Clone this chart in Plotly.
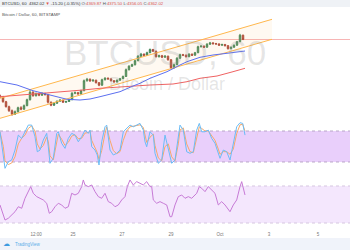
import plotly.graph_objects as go

# ---------------- data ----------------
CANDLE_HOURS = list(range(0, 246, 3))
OPEN = [3800, 3790, 3740, 3690, 3650, 3615, 3640, 3680, 3665, 3700, 3760, 3835, 3800, 3820, 3805, 3822, 3812, 3735, 3705, 3725,
        3745, 3755, 3735, 3742, 3760, 3825, 3830, 3818, 3850, 3950, 3965, 3948, 3955, 3930, 3905, 3960, 3975, 3968, 3950, 3938,
        3955, 3970, 3992, 4060, 4095, 4110, 4150, 4195, 4215, 4205, 4230, 4262, 4245, 4190, 4200, 4185, 4195, 4160, 4080, 4110,
        4175, 4210, 4205, 4190, 4215, 4205, 4230, 4290, 4295, 4285, 4315, 4328, 4320, 4318, 4305, 4312, 4300, 4270, 4285, 4305,
        4340, 4405]
CLOSE = [3790, 3740, 3690, 3650, 3615, 3640, 3680, 3665, 3700, 3760, 3835, 3800, 3820, 3805, 3822, 3812, 3735, 3705, 3725, 3745,
         3755, 3735, 3742, 3760, 3825, 3830, 3818, 3850, 3950, 3965, 3948, 3955, 3930, 3905, 3960, 3975, 3968, 3950, 3938, 3955,
         3970, 3992, 4060, 4095, 4110, 4150, 4195, 4215, 4205, 4230, 4262, 4245, 4190, 4200, 4185, 4195, 4160, 4080, 4110, 4175,
         4210, 4205, 4190, 4215, 4205, 4230, 4290, 4295, 4285, 4315, 4328, 4320, 4318, 4305, 4312, 4300, 4270, 4285, 4305, 4340,
         4405, 4362]
HIGH = [3812, 3798, 3748, 3700, 3662, 3652, 3690, 3695, 3712, 3770, 3858, 3845, 3832, 3830, 3835, 3830, 3818, 3742, 3735, 3752,
        3765, 3760, 3750, 3770, 3835, 3842, 3838, 3860, 3962, 3978, 3972, 3965, 3960, 3936, 3970, 3985, 3982, 3975, 3956, 3962,
        3978, 4002, 4072, 4105, 4120, 4160, 4205, 4228, 4222, 4240, 4272, 4268, 4250, 4210, 4208, 4205, 4200, 4165, 4120, 4185,
        4220, 4218, 4212, 4225, 4222, 4238, 4300, 4306, 4302, 4325, 4338, 4335, 4328, 4322, 4320, 4318, 4305, 4292, 4312, 4348,
        4418, 4410]
LOW = [3778, 3730, 3682, 3638, 3600, 3608, 3632, 3655, 3660, 3695, 3752, 3790, 3792, 3795, 3798, 3800, 3722, 3695, 3698, 3718,
       3738, 3728, 3730, 3738, 3755, 3815, 3810, 3812, 3845, 3940, 3938, 3940, 3922, 3895, 3900, 3952, 3960, 3942, 3930, 3932,
       3948, 3965, 3988, 4052, 4088, 4102, 4145, 4188, 4196, 4198, 4225, 4238, 4182, 4182, 4176, 4178, 4150, 4068, 4072, 4105,
       4168, 4196, 4182, 4185, 4198, 4200, 4225, 4282, 4278, 4280, 4308, 4312, 4310, 4298, 4298, 4292, 4262, 4265, 4280, 4300,
       4335, 4356]
LAST_PRICE = 4362.02

MA_BLUE_X = [0, 17, 33, 50, 67, 80, 90, 100, 110, 120, 133, 140, 150, 167, 180, 187, 200, 213, 227, 245]
MA_BLUE = [3940, 3907, 3850, 3807, 3764, 3757, 3767, 3790, 3817, 3840, 3897, 3924, 3974, 4040, 4107, 4140, 4184, 4207, 4224, 4247]
MA_RED_X = [0, 33, 67, 83, 100, 133, 150, 173, 187, 200, 217, 233, 245]
MA_RED = [3790, 3814, 3840, 3857, 3874, 3897, 3907, 3917, 3940, 3974, 3997, 4040, 4074]

CHANNEL_X = [0, 272]
CHANNEL_UPPER = [3774, 4564]
CHANNEL_LOWER = [3574, 4364]

STOCH_X = [0, 3.3, 5, 8.3, 11.7, 15, 18.3, 21.7, 25, 28.3, 31.7, 35, 37.3, 40, 43.3, 46.7, 48.3, 50, 53.3, 56.7,
           58.3, 61.7, 65, 68.3, 71.7, 75, 78.3, 81.7, 85, 88.3, 90, 91.7, 95, 97.3, 99, 101.7, 105, 106.7, 110, 113.3,
           116.7, 120, 123.3, 126.7, 130, 133.3, 136.7, 140, 143.3, 145, 146.7, 150, 153.3, 155, 158.3, 161.7, 165, 168.3,
           171.7, 175, 178.3, 180, 183.3, 186.7, 190, 193.3, 196.7, 199.3, 201.7, 205, 208.3, 211.7, 215, 218.3, 220,
           223.3, 226.7, 230, 233.3, 236.7, 240, 242.7, 245]
STOCH_K = [78.5, 23.8, 7.7, 20.5, 23.8, 43.1, 72.1, 65.6, 78.5, 91.5, 91.5, 68.9, 39.8, 43.1, 62.5, 75.4, 49.5, 17.4, 27.1, 75.4,
           78.5, 56.1, 46.4, 65.6, 75.4, 72.1, 59.2, 68.9, 81.8, 75.4, 81.8, 49.5, 43.1, 33.5, 14.1, 59.2, 88.2, 91.5, 43.1, 33.5,
           36.8, 43.1, 78.5, 85.1, 91.5, 88.2, 91.5, 94.8, 81.8, 59.2, 49.5, 78.5, 72.1, 36.8, 17.4, 23.8, 72.1, 43.1,
           17.4, 23.8, 75.4, 91.5, 81.8, 39.8, 36.8, 39.8, 81.8, 94.8, 78.5, 78.5, 81.8, 65.6, 56.1, 36.8, 27.1,
           43.1, 39.8, 23.8, 56.1, 88.2, 96.0, 94.8, 72.1]
STOCH_D = [78, 50, 22, 15, 18, 30, 55, 66, 72, 85, 90, 80, 55, 45, 52, 68, 60, 32, 24, 60,
           74, 64, 52, 58, 70, 73, 65, 66, 76, 77, 80, 62, 47, 38, 25, 42, 75, 88, 62, 42,
           36, 40, 62, 80, 88, 89, 90, 92, 87, 70, 58, 68, 74, 52, 28, 22, 50, 55,
           30, 22, 55, 82, 86, 55, 40, 38, 65, 88, 85, 80, 80, 72, 62, 45, 35,
           40, 40, 35, 45, 75, 92, 93, 80]

RSI_X = [0, 2.7, 5, 8.3, 11.7, 15, 18.3, 21.7, 25, 28.3, 30.7, 33.3, 36.7, 40, 43.3, 46.7, 49.3, 51.7, 55, 58.3,
         61.7, 65, 68.3, 71.7, 75, 78.3, 81.7, 83.3, 85, 88.3, 91.7, 95, 98.3, 101.7, 105, 108.3, 111.7, 115, 118.3,
         121.7, 125, 127.3, 130, 133.3, 136.7, 140, 143.3, 146.7, 150, 151.7, 153.3, 156.7, 160, 163.3, 166.7, 170,
         171.7, 175, 178.3, 181.7, 185, 188.3, 191.7, 196.7, 199.3, 201.7, 205, 208.3, 211.7, 215, 218.3, 221.7,
         225, 228.3, 230, 233.3, 236.7, 240, 241.7, 245]
RSI = [49.5, 40.5, 33.2, 35.1, 38.6, 42.2, 47.6, 45.9, 56.7, 63.9, 69.3, 62.1, 58.5, 56.7, 54.9, 51.3, 40.5, 42.2, 47.6, 51.3,
       49.5, 45.9, 47.6, 62.1, 60.3, 62.1, 69.3, 76.5, 71.1, 69.3, 71.1, 63.9, 58.5, 56.7, 62.1, 53.1, 51.3, 47.6, 49.5,
       54.9, 58.5, 69.3, 76.5, 71.1, 74.7, 72.9, 71.1, 74.7, 69.3, 69.3, 54.9, 51.3, 53.1, 51.3, 49.5, 36.8,
       36.8, 49.5, 58.5, 60.3, 56.7, 58.5, 56.7, 62.1, 69.3, 67.5, 63.9, 69.3, 65.7, 62.1, 49.5, 53.1,
       49.5, 44.1, 42.2, 49.5, 54.9, 69.3, 74.7, 60.3]

TICK_POS = [1, 36, 73, 122, 171, 220, 269, 318, 348]
TICK_TEXT = ["1", "12:00", "25", "27", "29", "Oct", "3", "5", "08"]

W, H = 350, 250


def py(pix):
    return 1 - pix / H


fig = go.Figure()

# channel
fig.add_trace(go.Scatter(x=CHANNEL_X, y=CHANNEL_LOWER, mode="lines",
                         line=dict(color="#ffb74d", width=1), hoverinfo="skip"))
fig.add_trace(go.Scatter(x=CHANNEL_X, y=CHANNEL_UPPER, mode="lines", fill="tonexty",
                         fillcolor="rgba(255,183,77,0.08)",
                         line=dict(color="#ffb74d", width=1), hoverinfo="skip"))

# moving averages
fig.add_trace(go.Scatter(x=MA_RED_X, y=MA_RED, mode="lines", line=dict(color="#f06262", width=1)))
fig.add_trace(go.Scatter(x=MA_BLUE_X, y=MA_BLUE, mode="lines", line=dict(color="#5c6ff0", width=1)))

# candles
fig.add_trace(go.Candlestick(x=CANDLE_HOURS, open=OPEN, high=HIGH, low=LOW, close=CLOSE,
                             increasing=dict(line=dict(color="#45875a", width=1), fillcolor="#52a06a"),
                             decreasing=dict(line=dict(color="#a8473a", width=1), fillcolor="#c45a46"),
                             whiskerwidth=0))

# stochastic
fig.add_trace(go.Scatter(x=STOCH_X, y=STOCH_D, mode="lines", yaxis="y2",
                         line=dict(color="#f7a86a", width=1)))
fig.add_trace(go.Scatter(x=STOCH_X, y=STOCH_K, mode="lines", yaxis="y2",
                         line=dict(color="#6bbcf5", width=1)))

# RSI
fig.add_trace(go.Scatter(x=RSI_X, y=RSI, mode="lines", yaxis="y3",
                         line=dict(color="#c77ad6", width=1)))

shapes = [
    dict(type="rect", xref="paper", yref="paper", x0=0, x1=1, y0=py(7), y1=1,
         fillcolor="#eff2f6", line=dict(width=0), layer="below"),
    dict(type="rect", xref="paper", yref="paper", x0=0, x1=1, y0=0, y1=py(238),
         fillcolor="#f0f3fa", line=dict(width=0), layer="below"),
    dict(type="line", xref="paper", yref="y", x0=0, x1=1, y0=LAST_PRICE, y1=LAST_PRICE,
         line=dict(color="rgba(240,120,120,0.55)", width=1), layer="below"),
    dict(type="rect", xref="paper", yref="y2", x0=0, x1=1, y0=20, y1=80,
         fillcolor="#e9cffb", line=dict(width=0), layer="below"),
    dict(type="line", xref="paper", yref="y2", x0=0, x1=1, y0=80, y1=80,
         line=dict(color="#b9a6c8", width=1, dash="dot"), layer="below"),
    dict(type="line", xref="paper", yref="y2", x0=0, x1=1, y0=20, y1=20,
         line=dict(color="#b9a6c8", width=1, dash="dot"), layer="below"),
    dict(type="rect", xref="paper", yref="y3", x0=0, x1=1, y0=30, y1=70,
         fillcolor="#f4e7fd", line=dict(width=0), layer="below"),
    dict(type="line", xref="paper", yref="y3", x0=0, x1=1, y0=70, y1=70,
         line=dict(color="#d6c6e0", width=1, dash="dot"), layer="below"),
    dict(type="line", xref="paper", yref="y3", x0=0, x1=1, y0=30, y1=30,
         line=dict(color="#d6c6e0", width=1, dash="dot"), layer="below"),
]

red = "#e0524a"
gray = "#555"
header = (f"<span style='color:#333'>BTCUSD, 60  4362.02 </span><span style='color:{red}'>▼</span>"
          f"<span style='color:#333'> -15.20 (-0.35%) </span>"
          f"<span style='color:{gray}'>O:</span><span style='color:{red}'>4369.87 </span>"
          f"<span style='color:{gray}'>H:</span><span style='color:{red}'>4375.50 </span>"
          f"<span style='color:{gray}'>L:</span><span style='color:{red}'>4356.05 </span>"
          f"<span style='color:{gray}'>C:</span><span style='color:{red}'>4362.02</span>")

annotations = [
    dict(text="BTCUSD, 60", x=165 / W, y=py(52.5), xref="paper", yref="paper", showarrow=False,
         xanchor="center", yanchor="middle",
         font=dict(family="Liberation Sans, Arial", size=35, color="rgba(140,140,140,0.22)")),
    dict(text="Bitcoin / Dollar", x=167 / W, y=py(84), xref="paper", yref="paper", showarrow=False,
         xanchor="center", yanchor="middle",
         font=dict(family="Liberation Sans, Arial", size=18, color="rgba(140,140,140,0.22)")),
    dict(text=header, x=0, y=py(3.5), xref="paper", yref="paper", xanchor="left", yanchor="middle",
         showarrow=False, font=dict(family="Liberation Sans, Arial", size=4.25, color="#333")),
    dict(text="Bitcoin / Dollar, 60, BITSTAMP", x=0, y=py(14), xref="paper", yref="paper",
         xanchor="left", yanchor="middle", showarrow=False,
         font=dict(family="Liberation Sans, Arial", size=4.3, color="#555")),
    dict(text="☁", x=6 / W, y=py(244), xref="paper", yref="paper", showarrow=False,
         xanchor="center", yanchor="middle",
         font=dict(family="DejaVu Sans", size=7, color="#3d9be0")),
    dict(text="TradingView", x=13 / W, y=py(244), xref="paper", yref="paper", xanchor="left",
         yanchor="middle", showarrow=False,
         font=dict(family="Liberation Sans, Arial", size=4.5, color="#5aaee8")),
]

fig.update_layout(
    width=W, height=H, margin=dict(l=0, r=0, t=0, b=0),
    paper_bgcolor="white", plot_bgcolor="rgba(0,0,0,0)", showlegend=False,
    xaxis=dict(range=[0, 350], domain=[0, 1], anchor="free", position=py(230),
               tickmode="array", tickvals=TICK_POS, ticktext=TICK_TEXT,
               tickfont=dict(family="Liberation Sans, Arial", size=4.5, color="#777"),
               showgrid=False, zeroline=False, showline=False, ticks="",
               rangeslider=dict(visible=False), fixedrange=True),
    yaxis=dict(domain=[py(125), py(17)], range=[3507, 4587], visible=False, fixedrange=True),
    yaxis2=dict(domain=[py(172.3), py(120.7)], range=[0, 100], visible=False, fixedrange=True),
    yaxis3=dict(domain=[py(226), py(176)], range=[26.76, 80.8], visible=False, fixedrange=True),
    shapes=shapes, annotations=annotations,
)

fig.write_html("out.html")
